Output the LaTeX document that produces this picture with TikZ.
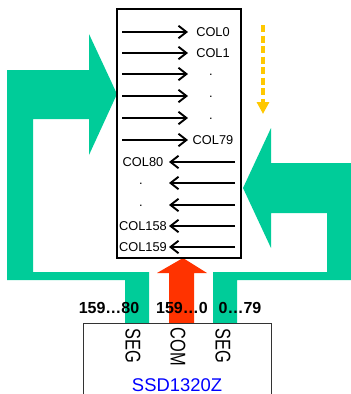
\documentclass[tikz,border=0pt]{standalone}
\usepackage{fontspec}
\setmainfont{Liberation Sans}
\usetikzlibrary{arrows.meta}
\definecolor{grn}{RGB}{0,204,153}
\definecolor{redarr}{RGB}{255,51,0}
\definecolor{gold}{RGB}{255,200,0}
\definecolor{icblue}{RGB}{0,0,255}
\tikzset{
  colarrow/.style={line width=1.6pt,-{Straight Barb[length=8pt,width=12.5pt,line width=1.9pt]}},
  collabel/.style={inner sep=0pt,font=\fontsize{12.8}{14}\selectfont},
  dotlabel/.style={inner sep=0pt,font=\fontsize{12.8}{14}\selectfont},
  pinlabel/.style={inner sep=0pt,font=\fontsize{16}{18}\selectfont\bfseries},
  portlabel/.style={inner sep=0pt,rotate=-90,font=\fontsize{16.4}{18}\selectfont},
  greenshape/.style={fill=grn,draw=none},
}
\begin{document}
\begin{tikzpicture}[x=1pt,y=-1pt]
\useasboundingbox (0,0) rectangle (351,394);

% green left shape
\fill[greenshape] (7,70) -- (89,70) -- (89,34) -- (117,94) -- (89,155) -- (89,119)
  -- (33,119) -- (33,272) -- (149,272) -- (149,323) -- (125,323) -- (125,280)
  -- (7,280) -- cycle;
% green right shape
\fill[greenshape] (271,163) -- (271,128) -- (243,188) -- (271,248) -- (271,213)
  -- (327,213) -- (327,272) -- (213,272) -- (213,323) -- (237,323) -- (237,280)
  -- (351,280) -- (351,163) -- cycle;
% red COM arrow
\fill[redarr] (183,258) -- (207,273) -- (194,273) -- (194,323) -- (169,323)
  -- (169,273) -- (157,273) -- cycle;

% panel
\node[draw,line width=2pt,minimum width=124pt,minimum height=249pt,inner sep=0pt] (panel) at (179,133.5) {};

% yellow dashed arrow
\coordinate (ys) at (263,25);
\coordinate (ye) at (263,114);
\draw[gold,line width=3.2pt,dash pattern=on 7pt off 3.5pt,-{Triangle[length=12pt,width=12pt]}] (ys) -- (ye);

% right-going columns
\foreach \y/\n/\t in {32/0/COL0, 53/1/COL1, 140/79/COL79}{
  \coordinate (rs\n) at (122,\y);
  \coordinate (re\n) at (188,\y);
  \node[collabel] (lab\n) at (213,\y) {\t};
  \draw[colarrow] (rs\n) -- (re\n);
}
\foreach \y/\n in {74/a, 96/b, 118/c}{
  \coordinate (rs\n) at (122,\y);
  \coordinate (re\n) at (188,\y);
  \node[dotlabel] (dot\n) at (211,\y+1) {.};
  \draw[colarrow] (rs\n) -- (re\n);
}
% left-going columns
\foreach \y/\n/\t in {162/80/COL80, 226/158/COL158, 247/159/COL159}{
  \coordinate (ls\n) at (235,\y);
  \coordinate (le\n) at (169,\y);
  \node[collabel] (lab\n) at (143,\y) {\t};
  \draw[colarrow] (ls\n) -- (le\n);
}
\foreach \y/\n in {183/d, 205/e}{
  \coordinate (ls\n) at (235,\y);
  \coordinate (le\n) at (169,\y);
  \node[dotlabel] (dot\n) at (141,\y+1) {.};
  \draw[colarrow] (ls\n) -- (le\n);
}

% IC box
\coordinate (icbl) at (83,395);
\coordinate (ictl) at (83,323);
\coordinate (ictr) at (271,323);
\coordinate (icbr) at (271,395);
\draw[line width=1pt,black!80] (icbl) -- (ictl) -- (ictr) -- (icbr);

% pin labels
\node[pinlabel] (p1) at (109,308) {159…80};
\node[pinlabel] (p2) at (182,308) {159…0};
\node[pinlabel] (p3) at (240,308) {0…79};

% port labels
\node[portlabel] (seg1) at (133,346) {\scalebox{1}[1.3]{SEG}};
\node[portlabel] (com) at (178,347) {\scalebox{1}[1.3]{COM}};
\node[portlabel] (seg2) at (223,346) {\scalebox{1}[1.3]{SEG}};

\node[inner sep=0pt,text=icblue,font=\fontsize{18.4}{20}\selectfont] (ic) at (177,385) {SSD1320Z};
\end{tikzpicture}
\end{document}
